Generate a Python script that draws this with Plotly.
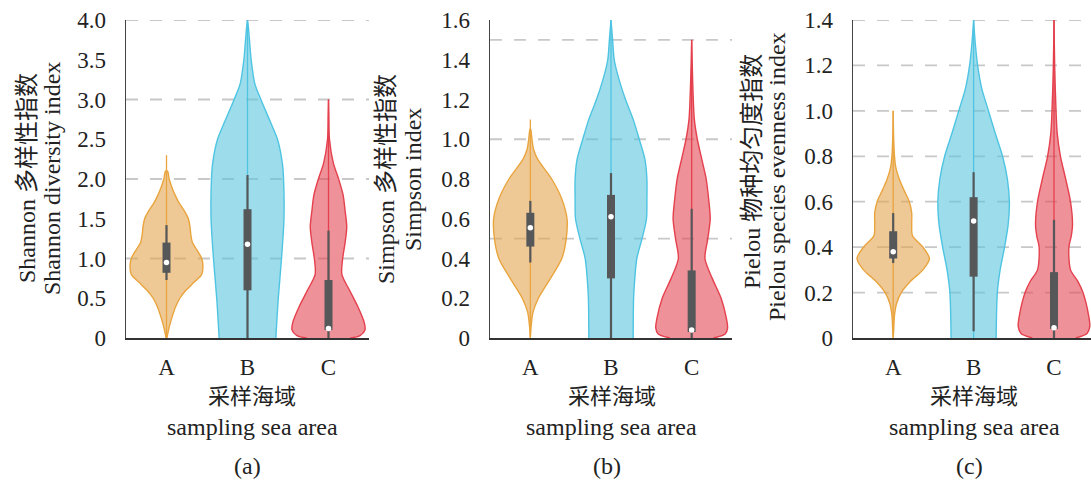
import plotly.graph_objects as go

W, H = 1091, 480
categories = ["A", "B", "C"]

# ---------------- violin profiles (y level, half-width in category units) -------------
# Panel (a) Shannon
sh_A_y = [0, 0.1, 0.2, 0.3, 0.4, 0.5, 0.6, 0.7, 0.8, 0.9, 1.0, 1.1, 1.2, 1.3, 1.4, 1.5, 1.6, 1.7, 1.8, 1.9, 2.0, 2.1]
sh_A_w = [0.005, 0.025, 0.05, 0.08, 0.115, 0.165, 0.24, 0.34, 0.435, 0.45, 0.435, 0.38, 0.32, 0.30, 0.29, 0.27, 0.22, 0.155, 0.105, 0.065, 0.033, 0.012]
sh_B_y = [0, 0.5, 1.0, 1.5, 2.0, 2.2, 2.5, 2.7, 3.0, 3.2, 3.5, 3.7, 3.9, 4.0]
sh_B_w = [0.35, 0.38, 0.42, 0.45, 0.445, 0.43, 0.37, 0.29, 0.165, 0.09, 0.045, 0.028, 0.012, 0.0]
sh_C_y = [0, 0.03, 0.1, 0.2, 0.4, 0.6, 0.8, 1.0, 1.2, 1.4, 1.6, 1.8, 2.0, 2.2, 2.5, 2.8, 3.0]
sh_C_w = [0.27, 0.39, 0.45, 0.44, 0.36, 0.26, 0.165, 0.175, 0.205, 0.225, 0.205, 0.18, 0.125, 0.06, 0.012, 0.004, 0.0]

# Panel (b) Simpson
si_A_y = [0, 0.05, 0.13, 0.2, 0.3, 0.4, 0.5, 0.6, 0.7, 0.8, 0.9, 0.95, 1.0, 1.05]
si_A_w = [0.0, 0.008, 0.033, 0.10, 0.25, 0.39, 0.445, 0.455, 0.39, 0.265, 0.09, 0.04, 0.02, 0.004]
si_B_y = [0, 0.2, 0.3, 0.4, 0.5, 0.6, 0.7, 0.8, 0.9, 1.0, 1.1, 1.2, 1.3, 1.4, 1.5, 1.6]
si_B_w = [0.275, 0.28, 0.295, 0.32, 0.385, 0.44, 0.445, 0.445, 0.42, 0.35, 0.275, 0.18, 0.10, 0.04, 0.02, 0.0]
si_C_y = [0, 0.02, 0.05, 0.1, 0.2, 0.3, 0.4, 0.5, 0.6, 0.7, 0.8, 0.9, 1.0, 1.1, 1.3, 1.5]
si_C_w = [0.27, 0.415, 0.445, 0.43, 0.365, 0.255, 0.165, 0.2, 0.23, 0.21, 0.18, 0.125, 0.07, 0.033, 0.012, 0.0]

# Panel (c) Pielou
pi_A_y = [0, 0.1, 0.15, 0.2, 0.25, 0.3, 0.35, 0.4, 0.45, 0.5, 0.55, 0.6, 0.65, 0.7, 0.75, 0.8, 0.9, 1.0]
pi_A_w = [0.0, 0.016, 0.04, 0.10, 0.215, 0.37, 0.45, 0.37, 0.24, 0.23, 0.23, 0.20, 0.135, 0.075, 0.033, 0.016, 0.004, 0.0]
pi_B_y = [0, 0.2, 0.3, 0.4, 0.5, 0.6, 0.7, 0.8, 0.9, 1.0, 1.1, 1.2, 1.3, 1.4]
pi_B_w = [0.28, 0.295, 0.33, 0.385, 0.43, 0.445, 0.42, 0.36, 0.27, 0.185, 0.10, 0.05, 0.02, 0.0]
pi_C_y = [0, 0.02, 0.05, 0.1, 0.2, 0.25, 0.3, 0.4, 0.45, 0.5, 0.6, 0.7, 0.8, 0.9, 1.0, 1.2, 1.4]
pi_C_w = [0.27, 0.41, 0.445, 0.43, 0.36, 0.295, 0.205, 0.185, 0.215, 0.23, 0.205, 0.145, 0.08, 0.04, 0.025, 0.008, 0.0]

# ---------------- box statistics ----------------
sh_q1 = [0.82, 0.60, 0.10]; sh_med = [0.95, 1.18, 0.12]; sh_q3 = [1.20, 1.62, 0.73]
sh_lo = [0.73, 0.0, 0.0]; sh_hi = [1.42, 2.05, 1.35]; sh_max = [2.3, 4.0, 3.0]
si_q1 = [0.46, 0.30, 0.03]; si_med = [0.555, 0.61, 0.04]; si_q3 = [0.63, 0.72, 0.34]
si_lo = [0.38, 0.0, 0.0]; si_hi = [0.69, 0.83, 0.65]; si_max = [1.1, 1.6, 1.5]
pi_q1 = [0.35, 0.27, 0.04]; pi_med = [0.38, 0.515, 0.045]; pi_q3 = [0.47, 0.62, 0.29]
pi_lo = [0.33, 0.03, 0.0]; pi_hi = [0.55, 0.73, 0.52]; pi_max = [1.0, 1.4, 1.4]

# ---------------- axes ----------------
sh_ticks = [0, 0.5, 1.0, 1.5, 2.0, 2.5, 3.0, 3.5, 4.0]
sh_ticktext = ["0", "0.5", "1.0", "1.5", "2.0", "2.5", "3.0", "3.5", "4.0"]
sh_grid = [1.0, 2.0, 3.0, 4.0]
si_ticks = [0, 0.2, 0.4, 0.6, 0.8, 1.0, 1.2, 1.4, 1.6]
si_ticktext = ["0", "0.2", "0.4", "0.6", "0.8", "1.0", "1.2", "1.4", "1.6"]
si_grid = [0.5, 1.0, 1.5]
pi_ticks = [0, 0.2, 0.4, 0.6, 0.8, 1.0, 1.2, 1.4]
pi_ticktext = ["0", "0.2", "0.4", "0.6", "0.8", "1.0", "1.2", "1.4"]
pi_grid = [0.2, 0.4, 0.6, 0.8, 1.0, 1.2, 1.4]

y_titles = [["Shannon 多样性指数", "Shannon diversity index"],
            ["Simpson 多样性指数", "Simpson index"],
            ["Pielou 物种均匀度指数", "Pielou species evenness index"]]
x_title_cn = "采样海域"
x_title_en = "sampling sea area"
panel_labels = ["(a)", "(b)", "(c)"]

fill_colors = ["rgba(228,165,78,0.6)", "rgba(92,198,222,0.6)", "rgba(227,72,85,0.6)"]
line_colors = ["#E9A43E", "#4FC4E2", "#E4404D"]
box_color = "#555759"

FONT = "Liberation Serif, Noto Sans CJK SC, serif"
TXT = "#222222"


def fx(px):
    return px / W


def fy(py):
    return 1 - py / H


panels = [
    dict(profiles=[(sh_A_y, sh_A_w), (sh_B_y, sh_B_w), (sh_C_y, sh_C_w)],
         q1=sh_q1, med=sh_med, q3=sh_q3, lo=sh_lo, hi=sh_hi, vmax=sh_max,
         ticks=sh_ticks, ticktext=sh_ticktext, grid=sh_grid, yr=[0, 4.0],
         px=(126, 369), xr=[-0.5, 2.5], yt_x=(27, 52), yt_y=(178, 179), xtitle_x=252),
    dict(profiles=[(si_A_y, si_A_w), (si_B_y, si_B_w), (si_C_y, si_C_w)],
         q1=si_q1, med=si_med, q3=si_q3, lo=si_lo, hi=si_hi, vmax=si_max,
         ticks=si_ticks, ticktext=si_ticktext, grid=si_grid, yr=[0, 1.6],
         px=(490, 732), xr=[-0.5, 2.5], yt_x=(386, 413), yt_y=(179, 180), xtitle_x=612),
    dict(profiles=[(pi_A_y, pi_A_w), (pi_B_y, pi_B_w), (pi_C_y, pi_C_w)],
         q1=pi_q1, med=pi_med, q3=pi_q3, lo=pi_lo, hi=pi_hi, vmax=pi_max,
         ticks=pi_ticks, ticktext=pi_ticktext, grid=pi_grid, yr=[0, 1.4],
         px=(853, 1091), xr=[-0.5, 2.46], yt_x=(752, 777), yt_y=(172, 177), xtitle_x=974),
]

top_px, bot_px = 20, 338
fig = go.Figure()
annotations = []
layout_axes = {}

for p, panel in enumerate(panels):
    sfx = "" if p == 0 else str(p + 1)
    xa, ya = "x" + sfx, "y" + sfx
    for g in panel["grid"]:
        fig.add_trace(go.Scatter(x=[panel["xr"][0], panel["xr"][1]], y=[g, g], mode="lines",
                                 line=dict(color="#C8C8C8", width=1.8, dash="12px,12px"),
                                 xaxis=xa, yaxis=ya, hoverinfo="skip", showlegend=False))
    for i, cat in enumerate(categories):
        ys, ws = panel["profiles"][i]
        xs_right = [i + w for w in ws]
        xs_left = [i - w for w in ws]
        px_ = xs_right + xs_left[::-1]
        py_ = list(ys) + list(ys)[::-1]
        fig.add_trace(go.Scatter(x=px_, y=py_, mode="lines", fill="toself",
                                 fillcolor=fill_colors[i],
                                 line=dict(color=line_colors[i], width=1.4, shape="spline", smoothing=0.8),
                                 xaxis=xa, yaxis=ya, hoverinfo="skip", showlegend=False))
        fig.add_trace(go.Scatter(x=[i, i], y=[0, panel["vmax"][i]], mode="lines",
                                 line=dict(color=line_colors[i], width=1.3),
                                 xaxis=xa, yaxis=ya, hoverinfo="skip", showlegend=False))
        fig.add_trace(go.Scatter(x=[i, i], y=[panel["lo"][i], panel["hi"][i]], mode="lines",
                                 line=dict(color=box_color, width=2.2),
                                 xaxis=xa, yaxis=ya, hoverinfo="skip", showlegend=False))
        fig.add_trace(go.Scatter(x=[i, i], y=[panel["q1"][i], panel["q3"][i]], mode="lines",
                                 line=dict(color=box_color, width=8),
                                 xaxis=xa, yaxis=ya, hoverinfo="skip", showlegend=False))
        fig.add_trace(go.Scatter(x=[i], y=[panel["med"][i]], mode="markers",
                                 marker=dict(color="white", size=5.5, line=dict(width=0)),
                                 xaxis=xa, yaxis=ya, hoverinfo="skip", showlegend=False))

    x0, x1 = panel["px"]
    layout_axes["xaxis" + sfx] = dict(
        domain=[fx(x0), min(1.0, fx(x1))], range=panel["xr"], anchor=ya, automargin=False,
        tickvals=[0, 1, 2], ticktext=categories, ticks="", ticklabelstandoff=7,
        ticklabeloverflow="allow",
        showgrid=False, zeroline=False, showline=True, linecolor="#333333", linewidth=2,
        tickfont=dict(family=FONT, size=23, color=TXT), fixedrange=True)
    layout_axes["yaxis" + sfx] = dict(
        domain=[fy(bot_px), fy(top_px)], range=panel["yr"], anchor=xa, automargin=False,
        tickvals=panel["ticks"], ticktext=panel["ticktext"], ticks="", ticklabelstandoff=14,
        ticklabeloverflow="allow",
        showgrid=False, zeroline=False, showline=True, linecolor="#444444", linewidth=1.5,
        tickfont=dict(family=FONT, size=23, color=TXT), fixedrange=True)

    for k in range(2):
        annotations.append(dict(
            text=y_titles[p][k], textangle=-90,
            x=fx(panel["yt_x"][k]), y=fy(panel["yt_y"][k]), xref="paper", yref="paper",
            xanchor="center", yanchor="middle", showarrow=False,
            font=dict(family=FONT, size=24, color=TXT)))
    annotations.append(dict(text=x_title_cn, x=fx(panel["xtitle_x"]), y=fy(396),
                            xref="paper", yref="paper", xanchor="center", yanchor="middle",
                            showarrow=False, font=dict(family=FONT, size=22, color=TXT)))
    annotations.append(dict(text=x_title_en, x=fx(panel["xtitle_x"]), y=fy(427),
                            xref="paper", yref="paper", xanchor="center", yanchor="middle",
                            showarrow=False, font=dict(family=FONT, size=24, color=TXT)))
    annotations.append(dict(text=panel_labels[p], x=fx(panel["xtitle_x"] - 5), y=fy(466),
                            xref="paper", yref="paper", xanchor="center", yanchor="middle",
                            showarrow=False, font=dict(family=FONT, size=24, color=TXT)))

fig.update_layout(width=W, height=H, margin=dict(l=0, r=0, t=0, b=0),
                  paper_bgcolor="white", plot_bgcolor="white",
                  showlegend=False, annotations=annotations, **layout_axes)

fig.write_html("out.html", config={"displayModeBar": False, "staticPlot": True},
               post_script="document.body.style.margin='0';document.body.style.overflow='hidden';")
